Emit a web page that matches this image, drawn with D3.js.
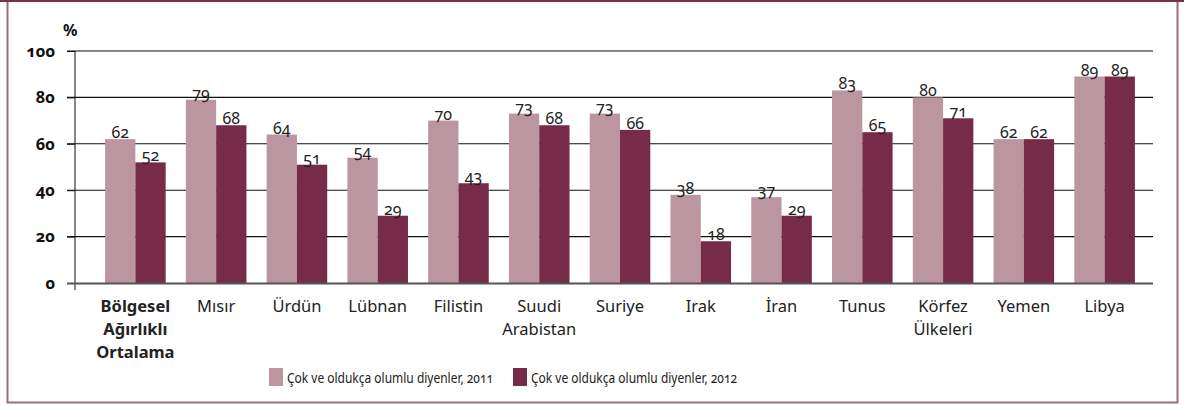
<!DOCTYPE html>
<html>
<head>
<meta charset="utf-8">
<script src="https://cdn.jsdelivr.net/npm/d3@7.9.0/dist/d3.min.js"></script>
<style>
  body { margin: 0; background: #fff; }
  svg { display: block; font-family: "Noto Sans", sans-serif; }
  .num { font-variant-numeric: oldstyle-nums; font-feature-settings: "onum" 1; }
</style>
</head>
<body>
<div id="chart"></div>
<script>
const categories = [
  ["Bölgesel", "Ağırlıklı", "Ortalama"], ["Mısır"], ["Ürdün"], ["Lübnan"], ["Filistin"],
  ["Suudi", "Arabistan"], ["Suriye"], ["Irak"], ["İran"], ["Tunus"],
  ["Körfez", "Ülkeleri"], ["Yemen"], ["Libya"]
];
const values2011 = [62, 79, 64, 54, 70, 73, 73, 38, 37, 83, 80, 62, 89];
const values2012 = [52, 68, 51, 29, 43, 68, 66, 18, 29, 65, 71, 62, 89];
const seriesNames = ["Çok ve oldukça olumlu diyenler, 2011", "Çok ve oldukça olumlu diyenler, 2012"];
const yTicks = [0, 20, 40, 60, 80, 100];

const width = 1184, height = 405;
const colors = ["#bb959f", "#762c48"];

const svg = d3.select("#chart").append("svg")
    .attr("width", width)
    .attr("height", height);

// frame
svg.append("rect")
    .attr("x", 7.5).attr("y", -1)
    .attr("width", 1170).attr("height", 403.5)
    .attr("fill", "none")
    .attr("stroke", "#9e6a7c")
    .attr("stroke-width", 2);
svg.append("line")
    .attr("x1", 0).attr("x2", width)
    .attr("y1", 1).attr("y2", 1)
    .attr("stroke", "#7a2f4c")
    .attr("stroke-width", 2);

const idx = d3.range(categories.length);

const x0 = d3.scaleBand()
    .domain(idx)
    .range([95, 1145])
    .paddingInner(0.25)
    .paddingOuter(0.125);

const x1 = d3.scaleBand()
    .domain([0, 1])
    .range([0, x0.bandwidth()]);

const y = d3.scaleLinear()
    .domain([0, 100])
    .range([283, 51]);

// grid lines
svg.append("g")
    .selectAll("line")
    .data(yTicks.filter(d => d > 0))
    .enter()
    .append("line")
    .attr("x1", 67)
    .attr("x2", 1153)
    .attr("y1", d => y(d))
    .attr("y2", d => y(d))
    .attr("stroke", "#111")
    .attr("stroke-width", 1.1);

// y axis
const yAxis = svg.append("g")
    .attr("transform", "translate(75,0)")
    .call(d3.axisLeft(y).tickValues(yTicks).tickSize(8).tickPadding(12));
yAxis.select(".domain").remove();
yAxis.selectAll(".tick line").attr("stroke", "#111");
yAxis.selectAll("text")
    .attr("class", "num")
    .attr("font-family", "Noto Sans")
    .attr("font-size", 16.5)
    .attr("font-weight", "bold")
    .attr("fill", "#111");

svg.append("line")
    .attr("x1", 75).attr("x2", 75)
    .attr("y1", 51).attr("y2", 290)
    .attr("stroke", "#111");

svg.append("text")
    .attr("x", 63).attr("y", 36)
    .attr("font-size", 16)
    .attr("font-weight", "bold")
    .attr("fill", "#111")
    .text("%");

// bars
const series = [values2011, values2012];
series.forEach((vals, s) => {
  const g = svg.append("g");
  g.selectAll("rect")
      .data(vals)
      .enter()
      .append("rect")
      .attr("x", (d, i) => x0(i) + x1(s))
      .attr("y", d => y(d))
      .attr("width", x1.bandwidth())
      .attr("height", d => y(0) - y(d))
      .attr("fill", colors[s]);
  g.selectAll("text")
      .data(vals)
      .enter()
      .append("text")
      .attr("class", "num")
      .attr("x", (d, i) => x0(i) + x1(s) + x1.bandwidth() / 2)
      .attr("y", d => y(d) - 1)
      .attr("text-anchor", "middle")
      .attr("font-size", 16)
      .attr("fill", "#222")
      .text(d => d);
});

// baseline
svg.append("line")
    .attr("x1", 67).attr("x2", 1153)
    .attr("y1", y(0) + 0.5).attr("y2", y(0) + 0.5)
    .attr("stroke", "#555")
    .attr("stroke-width", 2);

// category labels
const labels = svg.append("g")
    .selectAll("text")
    .data(categories)
    .enter()
    .append("text")
    .attr("text-anchor", "middle")
    .attr("font-size", 16.5)
    .attr("font-weight", (d, i) => i === 0 ? "bold" : "normal")
    .attr("fill", "#222")
    .attr("transform", (d, i) => `translate(${x0(i) + x0.bandwidth() / 2},312)`);
labels.selectAll("tspan")
    .data(d => d)
    .enter()
    .append("tspan")
    .attr("x", 0)
    .attr("y", (d, i) => i * 23)
    .text(d => d);

// legend
const legendX = [269, 513];
const legend = svg.append("g")
    .selectAll("g")
    .data(seriesNames)
    .enter()
    .append("g")
    .attr("transform", (d, i) => `translate(${legendX[i]},368)`);
legend.append("rect")
    .attr("width", 14)
    .attr("height", 18)
    .attr("fill", (d, i) => colors[i]);
legend.append("text")
    .attr("class", "num")
    .attr("x", 18)
    .attr("y", 15)
    .attr("font-size", 14)
    .attr("fill", "#222")
    .attr("textLength", 206)
    .attr("lengthAdjust", "spacingAndGlyphs")
    .text(d => d);
</script>
</body>
</html>
